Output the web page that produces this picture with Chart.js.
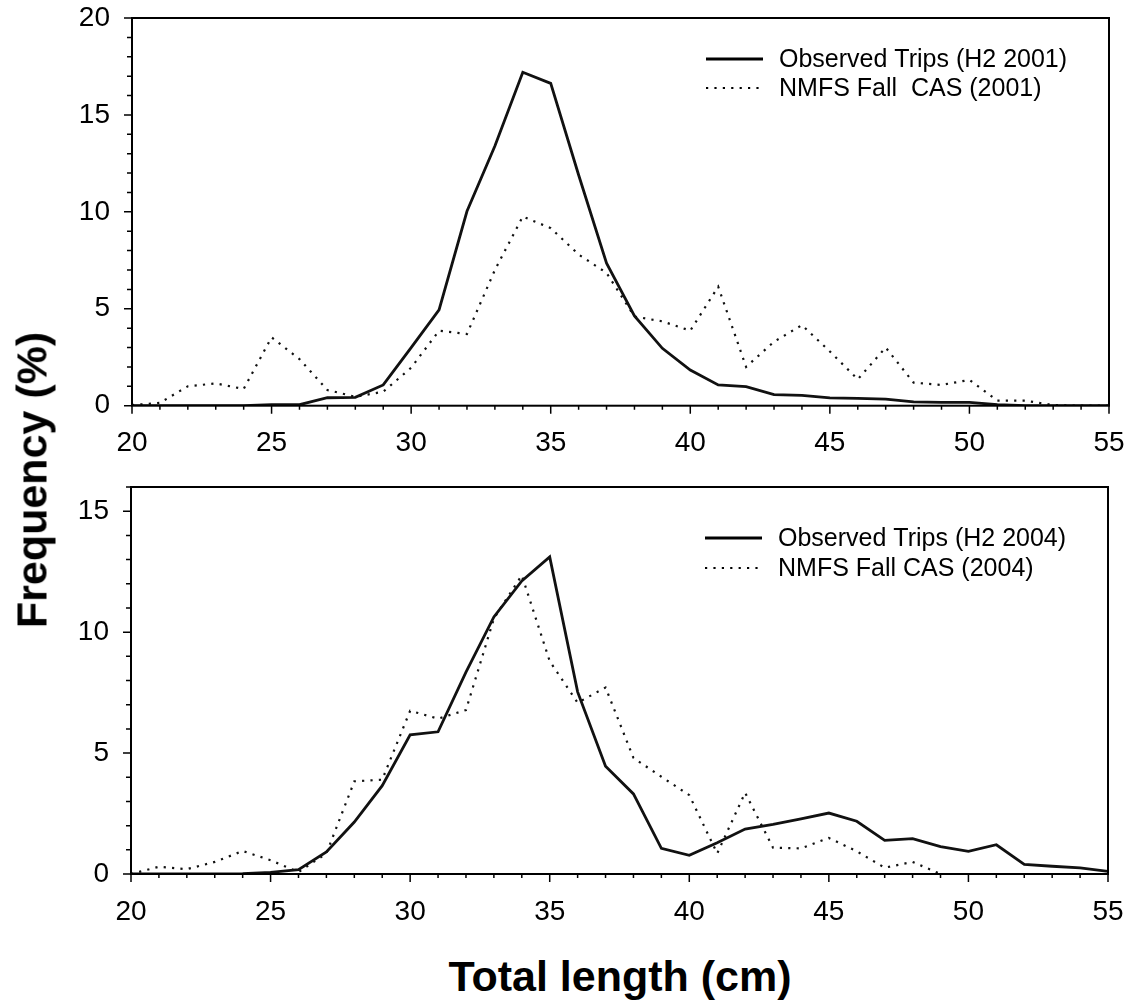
<!DOCTYPE html>
<html>
<head>
<meta charset="utf-8">
<script src="https://cdn.jsdelivr.net/npm/chart.js@4.4.1/dist/chart.umd.min.js"></script>
<style>
  html, body { margin: 0; padding: 0; background: #fff; }
  #wrap { position: relative; width: 1132px; height: 1002px; overflow: hidden; font-family: 'Liberation Sans', Arial, sans-serif; }
  canvas { position: absolute; left: 0; }
  #topChart { top: 0; }
  #bottomChart { top: 470px; }
  .axisTitle { position: absolute; font-weight: bold; font-size: 43px; white-space: nowrap; color: #000; }
  #yTitle { left: 32px; top: 480px; transform: translate(-50%, -50%) rotate(-90deg); }
  #xTitle { left: 620px; top: 976px; transform: translate(-50%, -50%); }
</style>
</head>
<body>
<div id="wrap">
  <canvas id="topChart" width="1132" height="480"></canvas>
  <canvas id="bottomChart" width="1132" height="470"></canvas>
  <div id="yTitle" class="axisTitle">Frequency (%)</div>
  <div id="xTitle" class="axisTitle">Total length (cm)</div>
</div>
<script>
// total length classes (cm)
const lengths = [20, 21, 22, 23, 24, 25, 26, 27, 28, 29, 30, 31, 32, 33, 34, 35, 36, 37,
                 38, 39, 40, 41, 42, 43, 44, 45, 46, 47, 48, 49, 50, 51, 52, 53, 54, 55];

// 2001 panel
const observed2001 = [0, 0, 0, 0, 0, 0.05, 0.05, 0.41, 0.43, 1.07, 3.0, 4.94, 10.03, 13.4, 17.2, 16.63, 11.9, 7.35,
                      4.63, 2.96, 1.84, 1.07, 0.98, 0.57, 0.53, 0.40, 0.38, 0.34, 0.2, 0.17, 0.17, 0.05, 0, 0, 0, 0];
const cas2001 = [0.03, 0.15, 1.0, 1.15, 0.86, 3.53, 2.4, 0.81, 0.46, 0.72, 1.96, 3.87, 3.7, 7.0, 9.76, 9.16, 7.8, 6.85,
                 4.6, 4.35, 3.87, 6.14, 2.0, 3.3, 4.16, 2.8, 1.36, 3.0, 1.19, 1.07, 1.33, 0.26, 0.26, 0.03, 0, 0];

// 2004 panel
const observed2004 = [0, 0, 0, 0, 0.01, 0.07, 0.18, 0.91, 2.15, 3.65, 5.75, 5.88, 8.35, 10.63, 12.12, 13.11, 7.53, 4.46,
                      3.31, 1.06, 0.77, 1.29, 1.86, 2.05, 2.28, 2.52, 2.18, 1.39, 1.46, 1.13, 0.94, 1.21, 0.4, 0.32, 0.25, 0.11];
const cas2004 = [0, 0.3, 0.2, 0.5, 0.95, 0.57, 0.08, 0.85, 3.83, 3.9, 6.75, 6.42, 6.78, 10.56, 12.35, 8.8, 7.08, 7.71,
                 4.8, 4.02, 3.26, 0.85, 3.36, 1.09, 1.06, 1.49, 0.94, 0.26, 0.5, 0, null, null, null, null, null, null];

const labels2001 = ['Observed Trips (H2 2001)', 'NMFS Fall  CAS (2001)'];
const labels2004 = ['Observed Trips (H2 2004)', 'NMFS Fall CAS (2004)'];

const xTicks = { min: 20, max: 55, step: 1, major: 5 };

Chart.defaults.font.family = "'Liberation Sans', Arial, sans-serif";
Chart.defaults.font.size = 28;
Chart.defaults.color = '#000';

function toPoints(values) {
    return lengths.map((len, i) => ({ x: len, y: values[i] }));
}

// box, tick marks and in-plot legend
const framePlugin = {
    id: 'frame',
    afterDraw(chart, args, opts) {
        const { ctx, chartArea: a, scales: { x, y } } = chart;
        ctx.save();
        ctx.strokeStyle = '#000';
        ctx.lineWidth = 2;
        ctx.setLineDash([]);
        ctx.strokeRect(a.left, a.top, a.right - a.left, a.bottom - a.top);

        ctx.beginPath();
        x.ticks.forEach(t => {
            const px = x.getPixelForValue(t.value);
            const len = t.value % 5 === 0 ? 8 : 4;
            ctx.moveTo(px, a.bottom);
            ctx.lineTo(px, a.bottom + len);
        });
        y.ticks.forEach(t => {
            const py = y.getPixelForValue(t.value);
            const len = t.value % 5 === 0 ? 8 : 5;
            ctx.moveTo(a.left, py);
            ctx.lineTo(a.left - len, py);
        });
        ctx.lineWidth = 1.5;
        ctx.stroke();

        // legend
        ctx.font = "25px 'Liberation Sans', Arial, sans-serif";
        ctx.fillStyle = '#000';
        ctx.textBaseline = 'middle';
        chart.data.datasets.forEach((ds, i) => {
            const ly = a.top + opts.rows[i];
            ctx.beginPath();
            ctx.lineWidth = ds.borderWidth;
            ctx.setLineDash(ds.borderDash || []);
            ctx.moveTo(a.right - 403, ly);
            ctx.lineTo(a.right - 346, ly);
            ctx.stroke();
            ctx.fillText(ds.label, a.right - 330, ly + 1);
        });
        ctx.restore();
    }
};

function makeChart(canvasId, solid, dotted, names, yMax, yWidth, padding, rows) {
    const ctx = document.getElementById(canvasId).getContext('2d');
    return new Chart(ctx, {
        type: 'line',
        data: {
            datasets: [{
                label: names[0],
                data: toPoints(solid),
                borderColor: '#111',
                borderWidth: 2.8,
                pointRadius: 0,
                tension: 0,
                fill: false
            }, {
                label: names[1],
                data: toPoints(dotted),
                borderColor: '#111',
                borderWidth: 2.2,
                borderDash: [2.2, 6.2],
                pointRadius: 0,
                tension: 0,
                fill: false,
                spanGaps: false
            }]
        },
        options: {
            responsive: false,
            animation: false,
            layout: { padding: padding },
            plugins: {
                legend: { display: false },
                tooltip: { enabled: false },
                frame: { rows: rows }
            },
            scales: {
                x: {
                    type: 'linear',
                    min: xTicks.min,
                    max: xTicks.max,
                    grid: { display: false, drawTicks: false },
                    border: { display: false },
                    ticks: {
                        stepSize: xTicks.step,
                        autoSkip: false,
                        maxRotation: 0,
                        padding: 21,
                        callback: v => (v % xTicks.major === 0 ? String(v) : '')
                    },
                    afterFit: scale => {
                        scale.height = 60;
                        scale.paddingLeft = 0;
                        scale.paddingRight = 0;
                    }
                },
                y: {
                    min: 0,
                    max: yMax,
                    grid: { display: false, drawTicks: false },
                    border: { display: false },
                    ticks: {
                        stepSize: 1,
                        autoSkip: false,
                        padding: 22,
                        callback: v => (v % 5 === 0 ? String(v) : '')
                    },
                    afterFit: scale => {
                        scale.width = yWidth;
                        scale.paddingTop = 0;
                        scale.paddingBottom = 0;
                    }
                }
            }
        },
        plugins: [framePlugin]
    });
}

makeChart('topChart', observed2001, cas2001, labels2001, 20, 132,
          { top: 18, right: 23, bottom: 14.3, left: 0 }, [41, 70]);
makeChart('bottomChart', observed2004, cas2004, labels2004, 16, 131,
          { top: 17, right: 24, bottom: 6, left: 0 }, [51, 81]);
</script>
</body>
</html>
